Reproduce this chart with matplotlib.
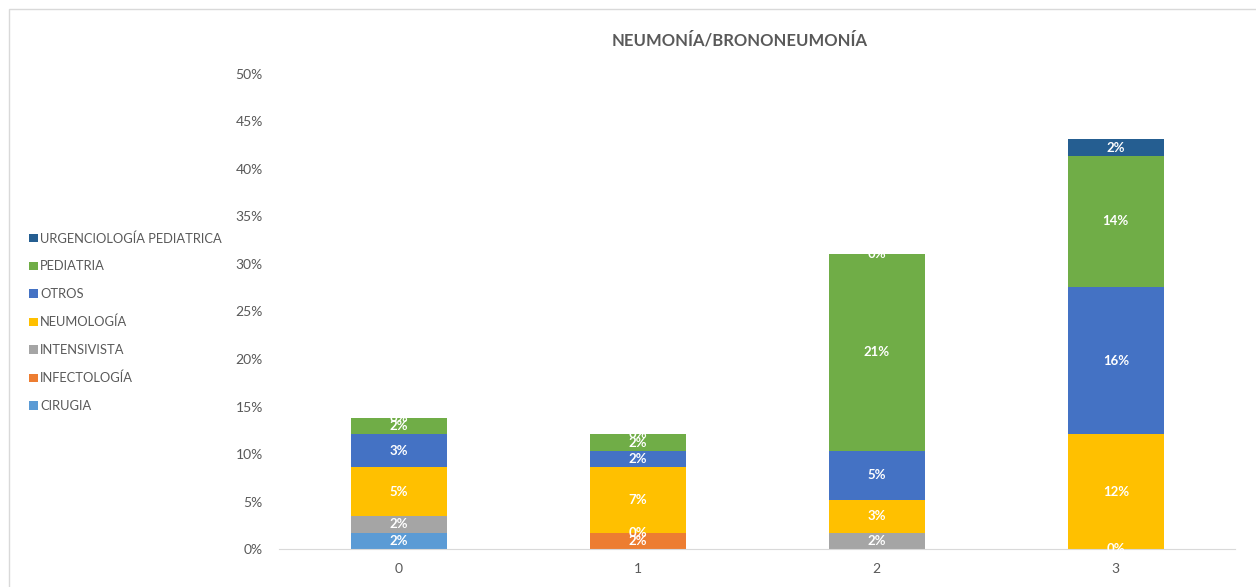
import matplotlib.pyplot as plt
import numpy as np
from matplotlib.patches import Rectangle
from matplotlib.ticker import FuncFormatter

plt.rcParams["font.family"] = ["Lato", "DejaVu Sans"]

# counts per category (share of all 58 cases), NaN = series not present
categories = ["0", "1", "2", "3"]
total_cases = 58
series_names = [
    "CIRUGIA",
    "INFECTOLOGÍA",
    "INTENSIVISTA",
    "NEUMOLOGÍA",
    "OTROS",
    "PEDIATRIA",
    "URGENCIOLOGÍA PEDIATRICA",
]
cirugia = [1, np.nan, np.nan, np.nan]
infectologia = [np.nan, 1, np.nan, np.nan]
intensivista = [1, 0, 1, 0]
neumologia = [3, 4, 2, 7]
otros = [2, 1, 3, 9]
pediatria = [1, 1, 12, 8]
urgenciologia = [0, 0, 0, 1]
colors = ["#5B9BD5", "#ED7D31", "#A5A5A5", "#FFC000", "#4472C4", "#70AD47", "#255E91"]

series = [cirugia, infectologia, intensivista, neumologia, otros, pediatria, urgenciologia]

grey = "#595959"
fig = plt.figure(figsize=(12.56, 5.87), dpi=100)
ax = fig.add_axes([0.2225, 0.0647, 0.761, 0.8093])

x = np.arange(len(categories))
bottom = np.zeros(len(categories))
handles = []
for name, vals, col in zip(series_names, series, colors):
    v = np.array(vals, dtype=float) / total_cases
    h = np.nan_to_num(v)
    bars = ax.bar(x, h, width=0.4, bottom=bottom, color=col, label=name)
    labels = ["" if np.isnan(val) else f"{round(val * 100):.0f}%" for val in v]
    ax.bar_label(bars, labels=labels, label_type="center", color="white",
                 fontsize=9.5, fontweight="bold")
    bottom += h
    handles.append(bars)

ax.set_xlim(-0.5, 3.5)
ax.set_ylim(0, 0.5)
ax.set_yticks(np.arange(0, 0.51, 0.05))
ax.yaxis.set_major_formatter(FuncFormatter(lambda v, _: f"{v * 100:.0f}%"))
ax.set_xticks(x)
ax.set_xticklabels(categories)
ax.tick_params(axis="both", length=0, colors=grey, labelsize=10)
ax.tick_params(axis="y", pad=12)
ax.tick_params(axis="x", pad=10)
for side in ["top", "right", "left"]:
    ax.spines[side].set_visible(False)
ax.spines["bottom"].set_color("#D9D9D9")

fig.text(740 / 1256, 1 - 40 / 587, "NEUMONÍA/BRONONEUMONÍA", ha="center", va="center",
         fontsize=12, fontweight="bold", color=grey)

leg = fig.legend(handles[::-1], series_names[::-1], loc="upper left",
                 bbox_to_anchor=(24 / 1256, 1 - 227 / 587), frameon=False,
                 fontsize=9.3, handlelength=0.65, handleheight=0.65,
                 handletextpad=0.2, labelspacing=1.22, borderaxespad=0)
for t in leg.get_texts():
    t.set_color(grey)

fig.patches.append(Rectangle((9 / 1256, -0.1), 1.2, 1 - 9 / 587 + 0.1, transform=fig.transFigure,
                             fill=False, edgecolor="#D9D9D9", linewidth=1))

fig.savefig("out.png", dpi=100)
